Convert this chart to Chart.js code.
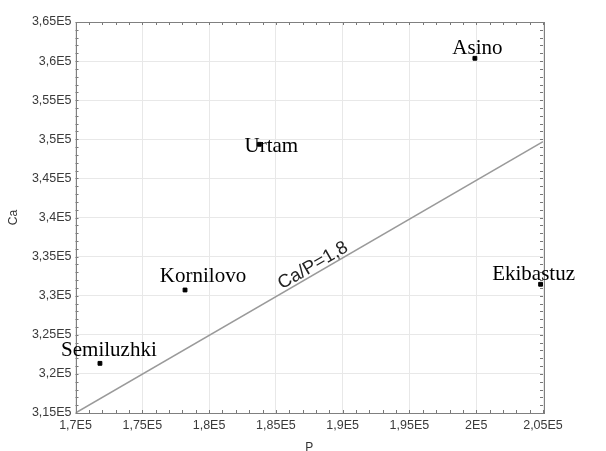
<!DOCTYPE html>
<html>
<head>
<meta charset="utf-8">
<script src="https://cdn.jsdelivr.net/npm/chart.js@4.4.1/dist/chart.umd.min.js"></script>
<style>
  html, body { margin: 0; padding: 0; background: #fff; }
  #wrap { width: 606px; height: 451px; position: relative; }
</style>
</head>
<body>
<div id="wrap"><canvas id="chart"></canvas></div>
<script>
// sites and their values (P, Ca)
const siteNames = ["Semiluzhki", "Kornilovo", "Urtam", "Asino", "Ekibastuz"];
const pValues = [171830, 178200, 183760, 199900, 204820];
const caValues = [321350, 330730, 349360, 360360, 331460];

// reference line Ca/P=1,8
const lineP = [170000, 205000];
const lineCa = [315000, 349700];
const lineLabel = "Ca/P=1,8";

// label offsets from the point (px)
const labelOffsets = [[9, -13], [18, -14], [12, 2], [2.5, -10], [-7, -10]];

function fmtE5(v) {
  const n = parseFloat((v / 1e5).toFixed(2));
  return String(n).replace(".", ",") + "E5";
}

const frameAndLabels = {
  id: "frameAndLabels",
  afterDraw(chart) {
    const ctx = chart.ctx;
    const a = chart.chartArea;
    const xs = chart.scales.x, ys = chart.scales.y;
    ctx.save();
    // minor ticks, inward
    ctx.strokeStyle = "#777";
    ctx.lineWidth = 1;
    ctx.beginPath();
    for (let v = 170000; v <= 205000; v += 1000) {
      const x = Math.round(xs.getPixelForValue(v)) + 0.5;
      ctx.moveTo(x, a.top); ctx.lineTo(x, a.top + 3);
      ctx.moveTo(x, a.bottom); ctx.lineTo(x, a.bottom - 3);
    }
    for (let v = 315000; v <= 365000; v += 1000) {
      const y = Math.round(ys.getPixelForValue(v)) + 0.5;
      ctx.moveTo(a.left, y); ctx.lineTo(a.left + 3, y);
      ctx.moveTo(a.right, y); ctx.lineTo(a.right - 3, y);
    }
    ctx.stroke();
    // frame
    ctx.strokeStyle = "#808080";
    ctx.strokeRect(Math.round(a.left) + 0.5, Math.round(a.top) + 0.5,
      Math.round(a.right - a.left), Math.round(a.bottom - a.top));

    // site labels
    ctx.fillStyle = "#000";
    ctx.font = "21px 'Liberation Serif', 'Times New Roman', serif";
    ctx.textAlign = "center";
    ctx.textBaseline = "middle";
    siteNames.forEach((name, i) => {
      const x = xs.getPixelForValue(pValues[i]) + labelOffsets[i][0];
      const y = ys.getPixelForValue(caValues[i]) + labelOffsets[i][1];
      ctx.fillText(name, x, y);
    });

    // line label, rotated along the line
    const x0 = xs.getPixelForValue(lineP[0]), y0 = ys.getPixelForValue(lineCa[0]);
    const x1 = xs.getPixelForValue(lineP[1]), y1 = ys.getPixelForValue(lineCa[1]);
    const ang = Math.atan2(y1 - y0, x1 - x0);
    const t = 0.517;
    const cx = x0 + (x1 - x0) * t, cy = y0 + (y1 - y0) * t;
    ctx.translate(cx, cy);
    ctx.rotate(ang);
    ctx.font = "18.5px 'Liberation Sans', Arial, sans-serif";
    ctx.fillStyle = "#222";
    ctx.textBaseline = "alphabetic";
    ctx.fillText(lineLabel, 0, -3);
    ctx.restore();

    // axis titles
    ctx.save();
    ctx.fillStyle = "#333";
    ctx.font = "12px 'Liberation Sans', Arial, sans-serif";
    ctx.textAlign = "center";
    ctx.textBaseline = "middle";
    ctx.fillText("P", (a.left + a.right) / 2, 448);
    ctx.translate(14, (a.top + a.bottom) / 2);
    ctx.rotate(-Math.PI / 2);
    ctx.fillText("Ca", 0, 0);
    ctx.restore();
  }
};

new Chart(document.getElementById("chart"), {
  type: "scatter",
  data: {
    datasets: [
      {
        label: "sites",
        data: pValues.map((p, i) => ({ x: p, y: caValues[i] })),
        backgroundColor: "#000",
        borderColor: "#000",
        pointStyle: "rect",
        pointRadius: 2.7,
        order: 0
      },
      {
        label: lineLabel,
        data: lineP.map((p, i) => ({ x: p, y: lineCa[i] })),
        showLine: true,
        borderColor: "#9a9a9a",
        borderWidth: 1.5,
        pointRadius: 0,
        order: 1
      }
    ]
  },
  options: {
    responsive: true,
    maintainAspectRatio: false,
    animation: false,
    layout: { padding: { left: 0, right: 63, top: 22, bottom: 0 } },
    plugins: { legend: { display: false }, tooltip: { enabled: false } },
    scales: {
      x: {
        type: "linear",
        min: 170000,
        max: 205000,
        ticks: {
          stepSize: 5000,
          color: "#3a3a3a",
          padding: 5,
          maxRotation: 0,
          font: { family: "'Liberation Sans', Arial, sans-serif", size: 12.5 },
          callback: (v) => fmtE5(v)
        },
        grid: { color: "#e8e8e8", drawTicks: false },
        border: { display: false },
        afterFit: (s) => { s.height = 38; }
      },
      y: {
        type: "linear",
        min: 315000,
        max: 365000,
        ticks: {
          stepSize: 5000,
          color: "#3a3a3a",
          padding: 4,
          font: { family: "'Liberation Sans', Arial, sans-serif", size: 12.5 },
          callback: (v) => fmtE5(v)
        },
        grid: { color: "#e8e8e8", drawTicks: false },
        border: { display: false },
        afterFit: (s) => { s.width = 75.5; }
      }
    }
  },
  plugins: [frameAndLabels]
});
</script>
</body>
</html>
